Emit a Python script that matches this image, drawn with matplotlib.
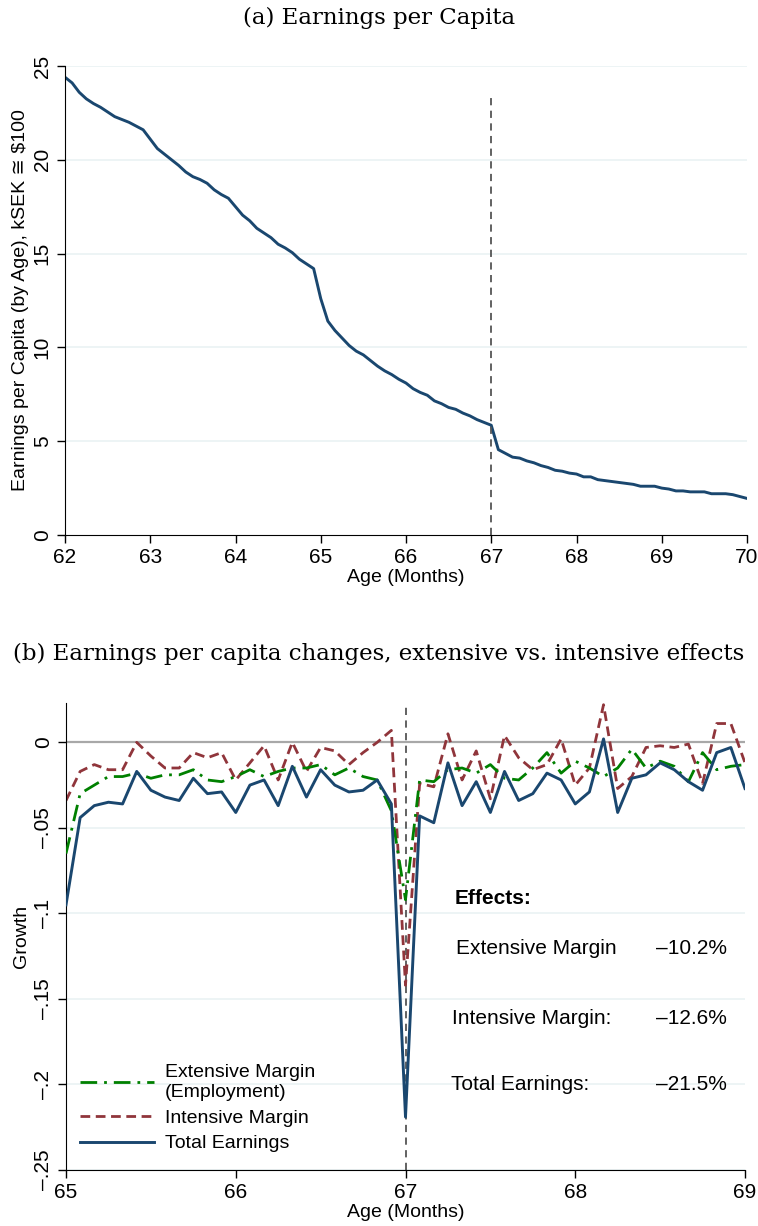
import matplotlib.pyplot as plt
import numpy as np

# panel (a): earnings per capita by age in months (62..70), kSEK
earn = [24.4, 24.1, 23.6, 23.25, 23.0, 22.8, 22.55, 22.3, 22.15, 22.0, 21.8, 21.6,
        21.1, 20.6, 20.3, 20.0, 19.7, 19.35, 19.1, 18.95, 18.75, 18.4, 18.15, 17.95,
        17.5, 17.05, 16.75, 16.35, 16.1, 15.85, 15.5, 15.3, 15.05, 14.7, 14.45, 14.2,
        12.6, 11.4, 10.9, 10.5, 10.1, 9.8, 9.6, 9.3, 9.0, 8.75, 8.55, 8.3,
        8.1, 7.8, 7.6, 7.45, 7.15, 7.0, 6.8, 6.7, 6.5, 6.35, 6.15, 6.0,
        5.85, 4.55, 4.35, 4.15, 4.1, 3.95, 3.85, 3.7, 3.6, 3.45, 3.4, 3.3,
        3.25, 3.1, 3.1, 2.95, 2.9, 2.85, 2.8, 2.75, 2.7, 2.6, 2.6, 2.6,
        2.5, 2.45, 2.35, 2.35, 2.3, 2.3, 2.3, 2.2, 2.2, 2.2, 2.15, 2.05, 1.95]
age_a = 62 + np.arange(len(earn)) / 12

# panel (b): growth, ages 65..69 monthly
total = [-0.095, -0.044, -0.037, -0.035, -0.036, -0.017, -0.028, -0.032, -0.034, -0.021,
         -0.030, -0.029, -0.041, -0.025, -0.022, -0.037, -0.014, -0.032, -0.016, -0.025,
         -0.029, -0.028, -0.022, -0.036, -0.219, -0.043, -0.047, -0.012, -0.037, -0.023,
         -0.041, -0.017, -0.034, -0.030, -0.018, -0.022, -0.036, -0.029, 0.002, -0.041,
         -0.021, -0.019, -0.012, -0.016, -0.023, -0.028, -0.006, -0.003, -0.027]
intens = [-0.034, -0.017, -0.013, -0.016, -0.016, 0.000, -0.008, -0.015, -0.015, -0.006,
          -0.009, -0.006, -0.022, -0.012, -0.002, -0.022, 0.000, -0.017, -0.003, -0.005,
          -0.013, -0.006, 0.000, 0.007, -0.142, -0.024, -0.026, 0.005, -0.022, -0.005,
          -0.033, 0.004, -0.009, -0.016, -0.013, 0.002, -0.025, -0.015, 0.022, -0.027,
          -0.020, -0.003, -0.002, -0.003, -0.001, -0.024, 0.011, 0.011, -0.012]
extens = [-0.065, -0.030, -0.025, -0.020, -0.020, -0.018, -0.021, -0.019, -0.019, -0.016,
          -0.022, -0.023, -0.020, -0.016, -0.020, -0.017, -0.015, -0.015, -0.013, -0.019,
          -0.015, -0.020, -0.022, -0.040, -0.092, -0.022, -0.023, -0.016, -0.015, -0.018,
          -0.013, -0.021, -0.022, -0.015, -0.006, -0.018, -0.011, -0.015, -0.020, -0.015,
          -0.004, -0.015, -0.011, -0.014, -0.023, -0.006, -0.016, -0.014, -0.013]
age_b = 65 + np.arange(len(total)) / 12

effect_names = ["Extensive Margin", "Intensive Margin:", "Total Earnings:"]
effect_vals = ["\u201310.2%", "\u201312.6%", "\u201321.5%"]

navy = "#1a476f"
maroon = "#90353b"
green = "#008000"
gridc = "#eaf2f3"

plt.rcParams['font.family'] = ['Liberation Sans', 'DejaVu Sans']
plt.rcParams['font.size'] = 15

fig = plt.figure(figsize=(7.58, 12.26), dpi=100)

# ---- panel (a)
ax1 = fig.add_axes([65/758, 1 - 535/1226, (747-65)/758, (535-66)/1226])
ax1.plot(age_a, earn, color=navy, lw=2.1)
ax1.axvline(67, ymax=0.934, color="#555555", ls=(0, (4, 3)), lw=1.3)
ax1.set_xlim(62, 70)
ax1.set_ylim(0, 25)
ax1.set_xticks(range(62, 71))
ax1.set_yticks([0, 5, 10, 15, 20, 25])
ax1.set_yticklabels(["0", "5", "10", "15", "20", "25"], rotation=90, va="center")
for v in [5, 10, 15, 20, 25]:
    ax1.axhline(v, color=gridc, lw=1.2, zorder=0)
ax1.set_xlabel("Age (Months)", fontsize=14, labelpad=1)
ax1.set_ylabel("Earnings per Capita (by Age), kSEK \u2245 $100", fontsize=14, labelpad=3)
fig.text(0.5, 1 - 18/1226, "(a) Earnings per Capita", family="DejaVu Serif",
         fontsize=16.5, ha="center", va="center")

# ---- panel (b)
ax2 = fig.add_axes([66/758, 1 - 1170/1226, (745-66)/758, (1170-703)/1226])
for v in [-0.05, -0.1, -0.15, -0.2, -0.25]:
    ax2.axhline(v, color=gridc, lw=1.2, zorder=0)
ax2.axhline(0, color="#a8a8a8", lw=1.6, zorder=1)
ax2.axvline(67, color="#555555", ls=(0, (4, 3)), lw=1.3, zorder=1)
ax2.plot(age_b, extens, color=green, lw=2.0, ls=(0, (6, 2.5, 1, 2.5)),
         label="Extensive Margin\n(Employment)", zorder=3)
ax2.plot(age_b, intens, color=maroon, lw=2.0, ls=(0, (3.5, 2)),
         label="Intensive Margin", zorder=2)
ax2.plot(age_b, total, color=navy, lw=2.1, label="Total Earnings", zorder=4)
ax2.set_xlim(65, 69)
ax2.set_ylim(-0.25, 0.023)
ax2.set_xticks(range(65, 70))
yt = [0, -0.05, -0.1, -0.15, -0.2, -0.25]
ax2.set_yticks(yt)
ax2.set_yticklabels(["0", "\u2013.05", "\u2013.1", "\u2013.15", "\u2013.2", "\u2013.25"],
                    rotation=90, va="center")
ax2.set_xlabel("Age (Months)", fontsize=14, labelpad=1)
ax2.set_ylabel("Growth", fontsize=14, labelpad=3)
fig.text(0.5, 1 - 654/1226,
         "(b) Earnings per capita changes, extensive vs. intensive effects",
         family="DejaVu Serif", fontsize=16.5, ha="center", va="center")

leg = ax2.legend(loc="lower left", bbox_to_anchor=(-0.005, 0.0), frameon=False,
                 fontsize=14, handlelength=3.8, handletextpad=0.55, labelspacing=0.42)

fig.text(455/758, 1 - 899/1226, "Effects:", fontsize=15, fontweight="bold", va="center")
ys = [949, 1018, 1084]
xs = [456, 452, 451]
for name, val, y, x in zip(effect_names, effect_vals, ys, xs):
    fy = 1 - y/1226
    fig.text(x/758, fy, name, fontsize=15, va="center")
    fig.text(656/758, fy, val, fontsize=15, va="center")

for ax in (ax1, ax2):
    for s in ["top", "right"]:
        ax.spines[s].set_visible(False)
    ax.tick_params(direction="out", length=6, width=1)

fig.savefig("out.png", dpi=100)
